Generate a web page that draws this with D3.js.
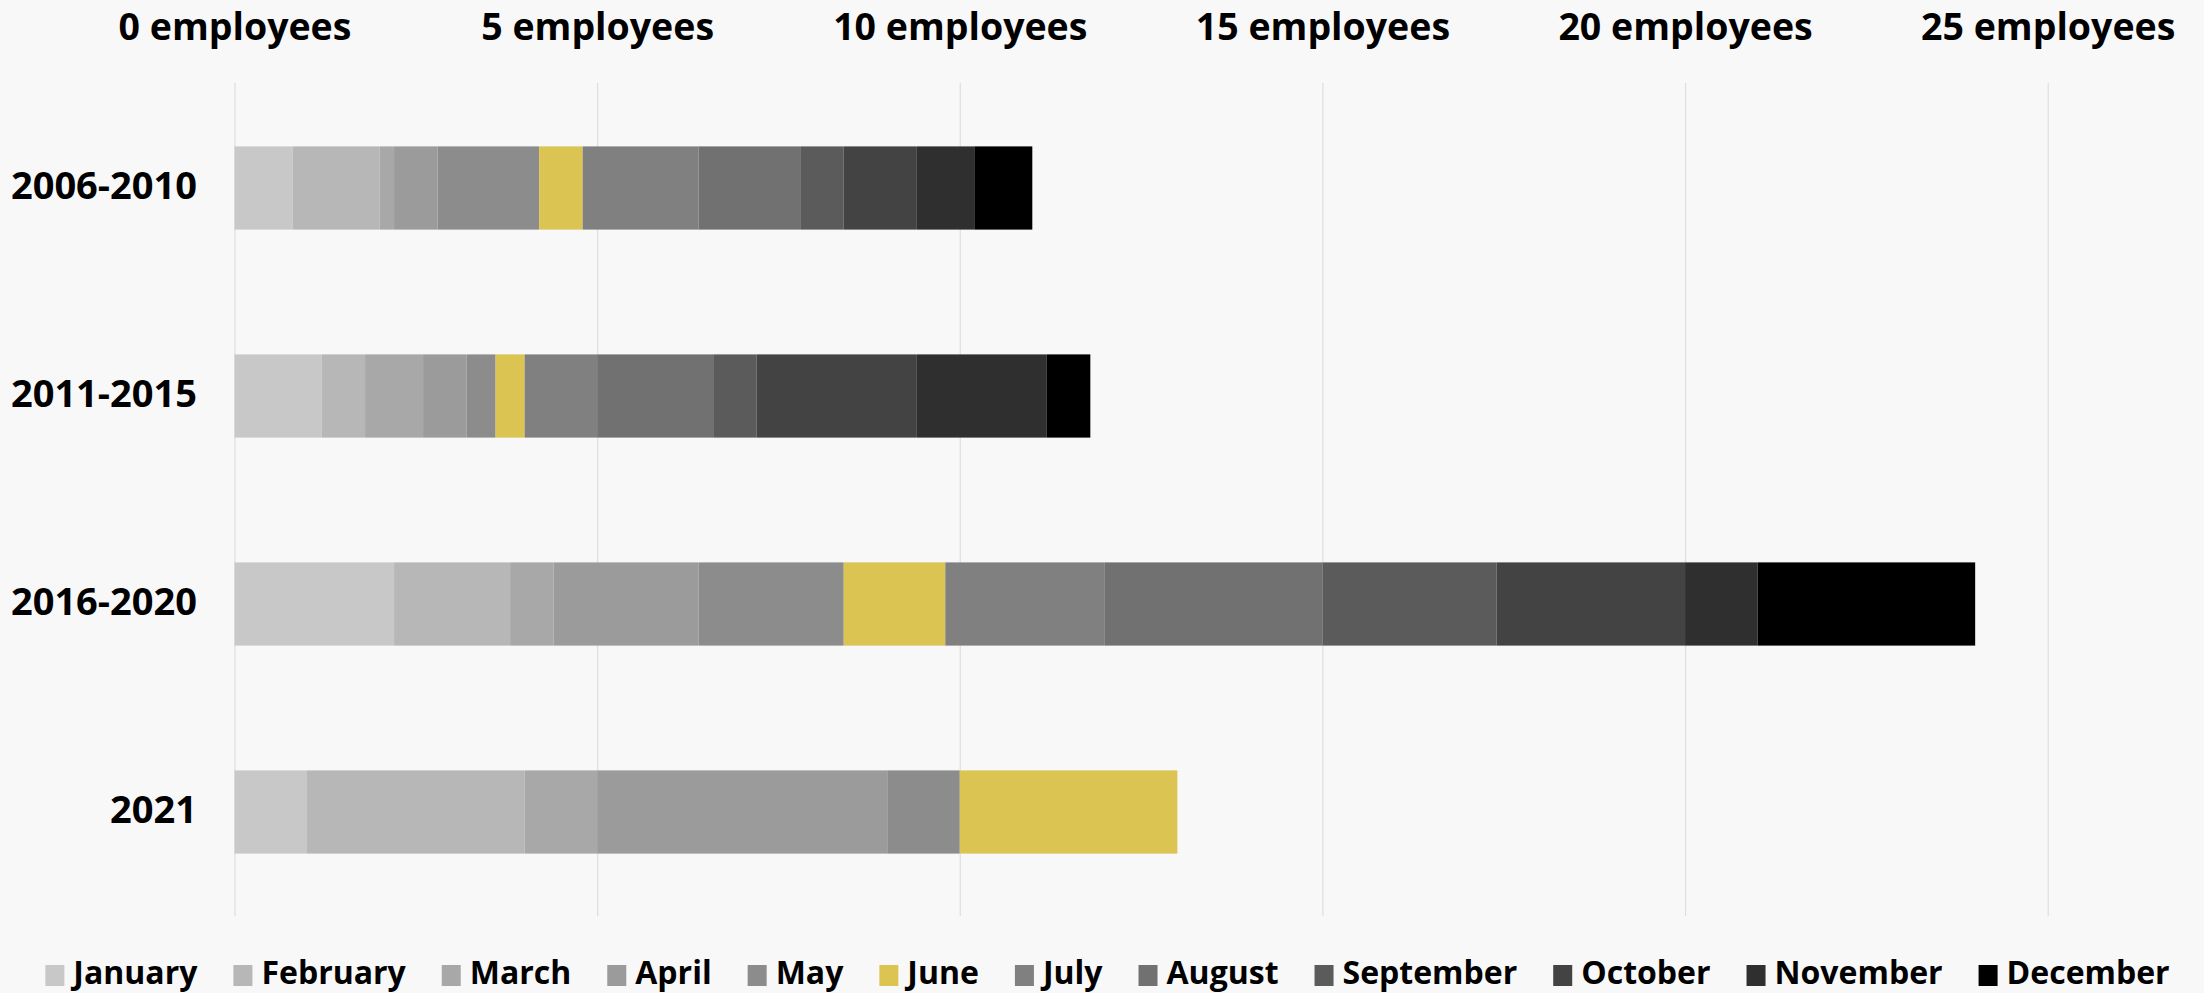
<!DOCTYPE html>
<html>
<head>
<meta charset="utf-8">
<script src="https://cdn.jsdelivr.net/npm/d3@7/dist/d3.min.js"></script>
<style>
  html, body { margin: 0; padding: 0; background: #f8f8f8; }
  svg { display: block; font-family: "Open Sans", sans-serif; }
</style>
</head>
<body>
<svg id="chart" width="2204" height="993"></svg>
<script>
// ---- data ----
const periods = ["2006-2010", "2011-2015", "2016-2020", "2021"];
const months = ["January", "February", "March", "April", "May", "June",
                "July", "August", "September", "October", "November", "December"];
const monthColors = ["#c8c8c8", "#b7b7b7", "#a8a8a8", "#9b9b9b", "#8c8c8c", "#dbc452",
                     "#808080", "#717171", "#5b5b5b", "#434343", "#2f2f2f", "#000000"];
// values per month, one per period (2006-2010, 2011-2015, 2016-2020, 2021)
const january   = [0.8, 1.2, 2.2, 1];
const february  = [1.2, 0.6, 1.6, 3];
const march     = [0.2, 0.8, 0.6, 1];
const april     = [0.6, 0.6, 2.0, 4];
const may       = [1.4, 0.4, 2.0, 1];
const june      = [0.6, 0.4, 1.4, 3];
const july      = [1.6, 1.0, 2.2, 0];
const august    = [1.4, 1.6, 3.0, 0];
const september = [0.6, 0.6, 2.4, 0];
const october   = [1.0, 2.2, 2.6, 0];
const november  = [0.8, 1.8, 1.0, 0];
const december  = [0.8, 0.6, 3.0, 0];
const tickValues = [0, 5, 10, 15, 20, 25];
const tickSuffix = " employees";

const seriesValues = [january, february, march, april, may, june,
                      july, august, september, october, november, december];

// table for the stack layout
const table = periods.map((p, i) => {
  const row = { period: p };
  months.forEach((m, j) => { row[m] = seriesValues[j][i]; });
  return row;
});

const svg = d3.select("#chart");

const x = d3.scaleLinear().domain([0, 25]).range([234.5, 2047.7]);
const y = d3.scaleBand().domain(periods).range([84, 916]).paddingInner(0.6).paddingOuter(0.3);
const color = d3.scaleOrdinal().domain(months).range(monthColors);

// gridlines
const grid = svg.append("g")
  .attr("transform", "translate(0,916)")
  .call(d3.axisBottom(x).tickValues(tickValues).tickSize(-833).tickFormat(""));
grid.select(".domain").remove();
grid.selectAll("line").attr("stroke", "#dedede").attr("stroke-width", 1.2);

// top axis labels
const topAxis = svg.append("g")
  .attr("transform", "translate(0,40)")
  .call(d3.axisTop(x).tickValues(tickValues).tickSize(0).tickPadding(0)
        .tickFormat(d => d + tickSuffix));
topAxis.select(".domain").remove();
topAxis.selectAll("text")
  .attr("font-family", "'Open Sans', sans-serif")
  .attr("font-weight", 700)
  .attr("font-size", 37.5)
  .attr("fill", "#000");

// left category labels
const leftAxis = svg.append("g")
  .attr("transform", `translate(${x(0)},0)`)
  .call(d3.axisLeft(y).tickSize(0).tickPadding(37.5));
leftAxis.select(".domain").remove();
leftAxis.selectAll("text")
  .attr("font-family", "'Open Sans', sans-serif")
  .attr("font-weight", 700)
  .attr("font-size", 38)
  .attr("dy", "0.29em")
  .attr("fill", "#000");

// stacked bars
const stacked = d3.stack().keys(months)(table);
svg.append("g")
  .selectAll("g")
  .data(stacked)
  .join("g")
  .attr("fill", d => color(d.key))
  .selectAll("rect")
  .data(d => d)
  .join("rect")
  .attr("x", d => x(d[0]))
  .attr("y", d => y(d.data.period))
  .attr("width", d => Math.max(0, x(d[1]) - x(d[0])))
  .attr("height", y.bandwidth());

// legend
const legend = svg.append("g").attr("class", "legend");
const sq = 19, sqGap = 9, itemGap = 36, legFont = 32;
let cursor = 0;
months.forEach((m, i) => {
  const g = legend.append("g").attr("transform", `translate(${cursor},0)`);
  g.append("rect").attr("x", 0).attr("y", 965).attr("width", sq).attr("height", 21)
    .attr("fill", color(m));
  const t = g.append("text").attr("x", sq + sqGap).attr("y", 984)
    .attr("font-family", "'Open Sans', sans-serif")
    .attr("font-weight", 700).attr("font-size", legFont).attr("fill", "#000")
    .text(m);
  cursor += sq + sqGap + t.node().getComputedTextLength() + itemGap;
});
const totalW = cursor - itemGap;
legend.attr("transform", `translate(${1107.5 - totalW / 2},0)`);
</script>
</body>
</html>
